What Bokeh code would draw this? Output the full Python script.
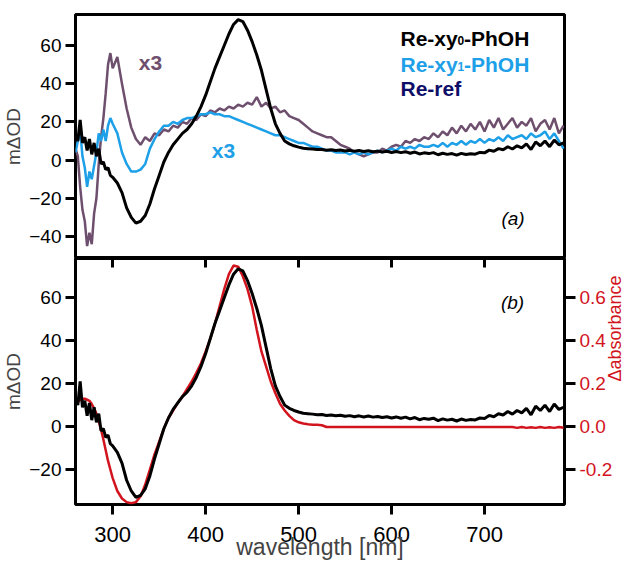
import math
from bokeh.plotting import figure
from bokeh.models import Range1d, LinearAxis, FixedTicker, PrintfTickFormatter, Label
from bokeh.layouts import column
from bokeh.embed import file_html
from bokeh.resources import INLINE

# ---------------- data ----------------
# wavelength grid [nm]: finer at the noisy UV end
wl_uv = [260, 262.5, 265, 267.5, 270, 272.5, 275, 277.5, 280,
         282.5, 285, 287.5, 290, 292.5, 295, 297.5, 300]
wl_vis = list(range(305, 790, 5))
wl = wl_uv + wl_vis

# Re-xy0-PhOH (black), mOD
re_xy0 = [13, 10, 21, 9, 12, 5, 11, 3, 9,
          2, 6, -2, -1, -5, -4, -8, -9,
          -12, -17, -25, -30, -33, -32, -29, -23, -15, -8,
          -1, 4, 8, 11, 14, 16, 19, 23, 28, 34,
          41, 48, 54, 60, 66, 71, 73.5, 72.5, 68, 62,
          55, 47, 37, 27, 19, 14, 10, 8.5, 7.5, 6.8,
          6.2, 6, 5.8, 5.5, 5.6, 5.2, 5.4, 5, 5.3, 4.8,
          5.1, 4.6, 5, 4.5, 4.9, 4.4, 4.7, 4.2, 4.6, 4,
          4.5, 3.9, 4.4, 3.6, 4.2, 3.2, 3.8, 3.4, 3.9, 2.8,
          3.6, 3, 3.4, 2.6, 3.5, 2.9, 3.3, 3.1, 4, 3.8,
          5.2, 4.6, 6, 5.4, 7, 5.8, 7.5, 6.4, 8.5, 5.5,
          9.5, 7.5, 10, 7, 10.5, 8, 9]

# mauve trace (x3), mOD
mauve_x3 = [6, 2, -14, -26, -32, -45, -38, -44, -28,
            -20, -2, 12, 22, 35, 50, 56, 48,
            54, 40, 27, 17, 11, 8, 12, 10, 14, 13,
            16, 15, 18, 17, 20, 19, 22, 21, 24, 23,
            26, 25, 27, 26, 28, 27, 29, 28, 30, 29,
            33, 28, 30, 27, 28, 25, 26, 23, 22, 21,
            19, 17, 15, 14, 13, 12, 12, 10, 8, 7,
            6, 4, 3, 2, 3, 4, 4, 6, 5, 7,
            8, 7, 10, 9, 11, 10, 12, 11, 14, 12,
            15, 13, 17, 14, 18, 15, 19, 16, 20, 15,
            21, 17, 22, 16, 19, 22, 17, 20, 18, 22,
            15, 19, 21, 16, 22, 14, 18]

# Re-xy1-PhOH (blue, x3), mOD
re_xy1_x3 = [4, 10, 16, 2, -4, -14, -6, -10, -3,
             4, 14, 10, 16, 10, 18, 22, 19,
             14, 4, -2, -6, -6, -5, -2, 6, 11, 15,
             18, 18, 20, 19, 21, 22, 22, 23, 24, 24,
             25, 24, 24, 23, 23, 22, 21, 20, 19, 18,
             17, 16, 15, 14, 13, 13, 12, 11, 10, 9,
             9, 8, 7, 7, 6, 5, 5, 4, 4, 4,
             3, 4, 3, 4, 3, 4, 5, 4, 5, 6,
             5, 7, 6, 7, 6, 8, 7, 7, 8, 7,
             9, 7, 9, 8, 10, 8, 10, 9, 11, 9,
             11, 10, 12, 10, 13, 11, 12, 13, 11, 14,
             12, 13, 15, 11, 14, 10, 6]

# steady-state difference spectrum (red), absorbance
d_absorbance = [0.10, 0.115, 0.125, 0.13, 0.13, 0.125, 0.12, 0.105, 0.085,
                0.06, 0.025, -0.015, -0.06, -0.11, -0.16, -0.20, -0.24,
                -0.30, -0.335, -0.352, -0.357, -0.352, -0.325, -0.27, -0.20, -0.13, -0.07,
                -0.01, 0.04, 0.075, 0.11, 0.14, 0.175, 0.21, 0.25, 0.295, 0.35,
                0.41, 0.48, 0.56, 0.64, 0.71, 0.75, 0.745, 0.70, 0.64, 0.56,
                0.45, 0.35, 0.28, 0.21, 0.155, 0.106, 0.075, 0.05, 0.03, 0.02,
                0.014, 0.011, 0.009, 0.008, 0.006, -0.002, -0.002, -0.002, -0.002, -0.002,
                -0.002, -0.002, -0.002, -0.002, -0.002, -0.002, -0.002, -0.002, -0.002, -0.002,
                -0.002, -0.002, -0.002, -0.002, -0.002, -0.002, -0.002, -0.002, -0.002, -0.002,
                -0.002, -0.002, -0.002, -0.002, -0.002, -0.002, -0.002, -0.002, -0.002, -0.002,
                -0.002, -0.002, -0.002, -0.002, -0.002, -0.002, -0.006, -0.002, -0.006, -0.003,
                -0.006, -0.002, -0.006, -0.003, -0.006, -0.002, -0.005]

x_ticks = [300, 400, 500, 600, 700]
top_y_ticks = [-40, -20, 0, 20, 40, 60]
bot_y_ticks = [-20, 0, 20, 40, 60]
abs_ticks = [-0.2, 0.0, 0.2, 0.4, 0.6]

legend_names = ["Re-xy", "-PhOH", "Re-ref"]

# ---------------- style ----------------
FONT = "Liberation Sans"
BLACK = "#000000"
BLUE = "#1ea0e8"
MAUVE = "#6e506e"
NAVY = "#0e0e68"
RED = "#d2141e"

X0, X1 = 260, 786
TOP_Y = (-51.5, 76.2)
BOT_Y = (-36.3, 78.3)
TXT_DY = 7  # compensation for text baseline placement

# helpers converting reference pixel positions (frame-relative) to data coordinates
def xd(px):
    return X0 + (px - 73) * (X1 - X0) / 489.0

def yd_top(py):
    return TOP_Y[1] - (py - 15) * (TOP_Y[1] - TOP_Y[0]) / 244.0

def yd_bot(py):
    return BOT_Y[1] - (py - 259) * (BOT_Y[1] - BOT_Y[0]) / 246.0


def style_axis(ax, tick_out, tick_in, label_size, label_color=BLACK, standoff=4):
    ax.axis_line_color = None
    ax.major_tick_line_color = BLACK
    ax.major_tick_line_width = 3
    ax.major_tick_out = tick_out
    ax.major_tick_in = tick_in
    ax.minor_tick_line_color = None
    ax.major_label_text_font = FONT
    ax.major_label_text_font_size = label_size
    ax.major_label_text_color = label_color
    ax.major_label_standoff = standoff
    ax.axis_label_text_font = FONT
    ax.axis_label_text_font_style = "normal"


def base_fig(fh, yr, top_border):
    p = figure(frame_width=489, frame_height=fh,
               x_range=Range1d(X0, X1), y_range=Range1d(*yr),
               min_border_left=65, min_border_right=68,
               min_border_top=top_border, min_border_bottom=0,
               x_axis_location=None, toolbar_location=None,
               output_backend="svg",
               background_fill_color="white", border_fill_color="white",
               outline_line_color=BLACK, outline_line_width=3)
    p.grid.visible = False
    return p

# ---------------- panel (a) ----------------
p1 = base_fig(244, TOP_Y, 14)
ya = p1.yaxis[0]
ya.ticker = FixedTicker(ticks=top_y_ticks)
style_axis(ya, 10, 0, "19px")
ya.axis_label = "m\u0394OD"
ya.axis_label_text_font_size = "19px"
ya.axis_label_standoff = 2

p1.line(wl, mauve_x3, line_color=MAUVE, line_width=2.5)
p1.line(wl, re_xy1_x3, line_color=BLUE, line_width=2.5)
p1.line(wl, re_xy0, line_color=BLACK, line_width=3)

def lab(p, text, x, y, color, size, style="bold", align="left", xoff=0):
    p.add_layout(Label(x=x, y=y, x_offset=xoff, y_offset=TXT_DY, text=text,
                       text_font=FONT, text_font_size=size,
                       text_font_style=style, text_color=color,
                       text_align=align, text_baseline="alphabetic"))

# legend (text only)
lx = xd(398)
lab(p1, legend_names[0], lx, yd_top(45.5), BLACK, "21px")
lab(p1, "0", lx, yd_top(48.3), BLACK, "12px", xoff=57)
lab(p1, legend_names[1], lx, yd_top(45.5), BLACK, "21px", xoff=63.5)
lab(p1, legend_names[0], lx, yd_top(71.5), BLUE, "21px")
lab(p1, "1", lx, yd_top(74.3), BLUE, "12px", xoff=57)
lab(p1, legend_names[1], lx, yd_top(71.5), BLUE, "21px", xoff=63.5)
lab(p1, legend_names[2], lx, yd_top(95.5), NAVY, "21px")

lab(p1, "x3", xd(148), yd_top(70), MAUVE, "21px", align="center")
lab(p1, "x3", xd(221), yd_top(158.3), BLUE, "21px", align="center")
lab(p1, "(a)", xd(510.5), yd_top(226), BLACK, "19px", style="italic", align="center")

# ---------------- panel (b) ----------------
p2 = base_fig(246, BOT_Y, 0)
p2.extra_y_ranges = {"abs": Range1d(BOT_Y[0] / 100.0, BOT_Y[1] / 100.0)}

yb = p2.yaxis[0]
yb.ticker = FixedTicker(ticks=bot_y_ticks)
style_axis(yb, 10, 0, "19px")
yb.axis_label = "m\u0394OD"
yb.axis_label_text_font_size = "19px"
yb.axis_label_standoff = 2

xb = LinearAxis(ticker=FixedTicker(ticks=x_ticks))
style_axis(xb, 10, 0, "22px", standoff=12)
xb.axis_label = "wavelength [nm]"
xb.axis_label_text_font_size = "23px"
xb.axis_label_standoff = -11
p2.add_layout(xb, "below")

xt = LinearAxis(ticker=FixedTicker(ticks=x_ticks))
style_axis(xt, 0, 9, "1px", standoff=0)
xt.major_label_text_color = None
p2.add_layout(xt, "above")

yr = LinearAxis(y_range_name="abs", ticker=FixedTicker(ticks=abs_ticks),
                formatter=PrintfTickFormatter(format="%.1f"))
style_axis(yr, 11, 0, "19px", label_color=RED, standoff=4)
yr.axis_label = "\u0394absorbance"
yr.axis_label_text_font_size = "18px"
yr.axis_label_text_color = RED
yr.axis_label_standoff = 0
yr.axis_label_orientation = math.pi / 2
p2.add_layout(yr, "right")

p2.line(wl[1:], d_absorbance[1:], line_color=RED, line_width=2.5, y_range_name="abs")
p2.line(wl, re_xy0, line_color=BLACK, line_width=3)

lab(p2, "(b)", xd(510), yd_bot(310), BLACK, "19px", style="italic", align="center")

layout = column(p1, p2, spacing=0)
open("out.html", "w").write(file_html(layout, INLINE))
